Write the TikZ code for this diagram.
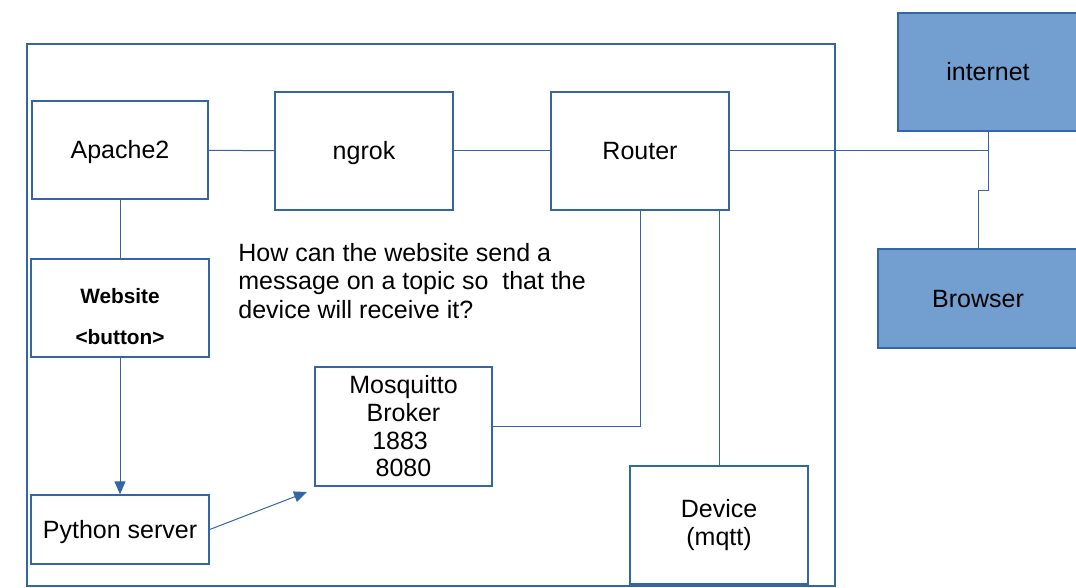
\documentclass[tikz,border=0pt]{standalone}
\usepackage{fontspec}
\setmainfont{Liberation Sans}
\usetikzlibrary{arrows.meta, calc}
\definecolor{lineblue}{HTML}{3465A4}
\definecolor{fillblue}{HTML}{729FCF}

\begin{document}
\begin{tikzpicture}[x=0.5pt, y=-0.5pt,
	wire/.style={draw=lineblue, line width=0.5pt},
	arrow/.style={wire, -{Triangle[width=5.5pt, length=6.5pt]}},
	box/.style 2 args={draw=lineblue, line width=0.7pt, inner sep=0pt,
		minimum width=#1*0.5pt, minimum height=#2*0.5pt, align=center,
		font=\fontsize{12.5}{14.3}\selectfont},
	oneline/.style={text height=11.3pt, text depth=2.65pt},
	cloud/.style 2 args={box={#1}{#2}, oneline, fill=fillblue}]
	\useasboundingbox (0,0) rectangle (1076,588);
	\coordinate (MqIn) at (307, 492);
	
	% Frame round the home network
	\draw[wire, line width=0.6pt] (27, 44) rectangle (835, 586);
	
	% Boxes
	\node[box={176}{98}, oneline] (apache) at (120, 150) {Apache2};
	\node[box={178}{118}, oneline] (ngrok) at (364, 151) {ngrok};
	\node[box={178}{118}, oneline] (router) at (640, 151) {Router};
	\node[box={178}{98}, label={[align=center, yshift=-4.25pt, font=\bfseries\fontsize{10.4}{20.5}\selectfont]center:Website\\<button>}] (website) at (120, 308) {};
	\node[box={178}{69}, oneline] (python) at (120, 529.5) {Python server};
	\node[box={177}{119}, font=\fontsize{12.5}{13.85}\selectfont] (mosq) at (403.5, 426.5) {Mosquitto\\Broker\\1883\kern3.4pt\\8080};
	\node[box={178}{118}, font=\fontsize{12.5}{14.25}\selectfont] (device) at (719, 525) {Device\\(mqtt)};
	
	% Outside
	\node[cloud={180}{118}] (internet) at (988, 72) {internet};
	\node[cloud={200}{99}] (browser) at (978, 298.5) {Browser};
	
	% Question
	\node[anchor=west, align=left, inner sep=0pt, font=\fontsize{12.5}{14.25}\selectfont] (question) at (238, 281)
		{How can the website send a\\message on a topic so\ \ that the\\device will receive it?};
	
	% Links
	\draw[wire] (apache) -- (ngrok);
	\draw[wire] (ngrok) -- (router);
	\draw[wire] (router.east) -- (router.east -| internet.south);
	\draw[wire] (internet.south) -- ++(0, 59) -| (browser.north);
	\draw[wire] (apache) -- (website);
	\draw[wire] (mosq.east) -| (router.south);
	\draw[wire] (device.north) -- (device.north |- router.south);
	
	% Arrows
	\draw[arrow] (website) -- (python);
	\draw[arrow] (python.east) -- (MqIn);
\end{tikzpicture}
\end{document}
